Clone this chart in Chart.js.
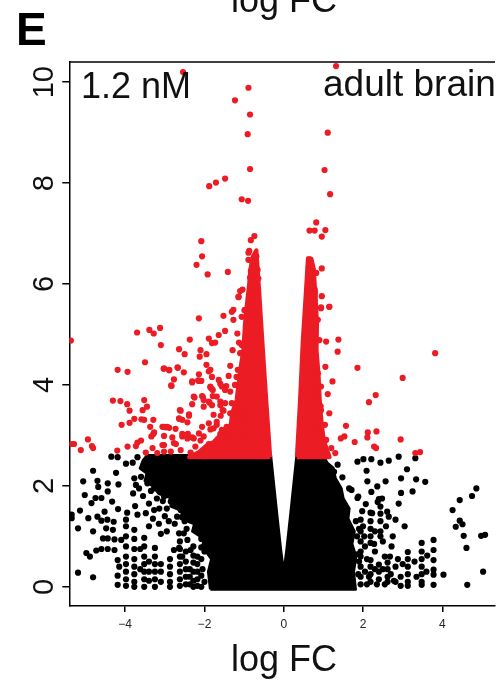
<!DOCTYPE html>
<html>
<head>
<meta charset="utf-8">
<script src="https://cdn.jsdelivr.net/npm/chart.js@4.4.1/dist/chart.umd.min.js"></script>
<style>
html, body { margin: 0; padding: 0; background: #fff; overflow: hidden; }
#wrap { position: relative; width: 499px; height: 682px; }
</style>
</head>
<body>
<div id="wrap"><canvas id="c" width="499" height="682"></canvas></div>
<script>
// --- data ------------------------------------------------------------
var xTicks = [-4, -2, 0, 2, 4];
var yTicks = [0, 2, 4, 6, 8, 10];
var yTickLabels = ["0", "2", "4", "6", "8", "10"];

// dense black mass (below the significance cut), with the white "V" notch
var blackCore = [
    [-1.85, -0.05], [-1.9, 0.3], [-1.82, 0.55], [-2.05, 0.8], [-2.0, 0.95], [-2.3, 1.1],
    [-2.25, 1.25], [-2.6, 1.35], [-2.55, 1.5], [-2.85, 1.6], [-2.8, 1.75], [-3.15, 1.85],
    [-3.3, 2.0], [-3.5, 2.1], [-3.45, 2.25], [-3.62, 2.35], [-3.55, 2.5], [-3.45, 2.6],
    [-0.33, 2.6], [-0.25, 2.0], [-0.17, 1.4], [-0.08, 0.75], [0, 0.26],
    [0.08, 0.75], [0.17, 1.4], [0.25, 2.0], [0.33, 2.6],
    [0.99, 2.6], [1.1, 2.45], [1.25, 2.35], [1.3, 2.15], [1.45, 1.95], [1.5, 1.75],
    [1.65, 1.55], [1.62, 1.35], [1.78, 1.1], [1.72, 0.85], [1.82, 0.6], [1.76, 0.3],
    [1.81, -0.05], [-1.85, -0.05]
];

// dense red wedges either side of the V
var redLeftCore = [
    [-0.34, 2.57], [-0.44, 3.70], [-0.54, 4.89], [-0.62, 5.88], [-0.69, 6.67], [-0.78, 6.55],
    [-0.84, 6.3], [-0.88, 5.95], [-0.92, 5.68], [-0.98, 5.2], [-1.02, 4.69], [-1.1, 4.3],
    [-1.19, 3.70], [-1.3, 3.45], [-1.34, 3.21], [-1.55, 3.05], [-1.77, 2.87], [-1.95, 2.8],
    [-2.14, 2.67], [-2.39, 2.57], [-0.34, 2.57]
];
var redRightCore = [
    [0.33, 2.57], [0.41, 3.70], [0.48, 4.89], [0.56, 5.88], [0.61, 6.51], [0.7, 6.5],
    [0.76, 6.3], [0.79, 5.9], [0.81, 5.68], [0.84, 5.2], [0.83, 4.69], [0.88, 4.2],
    [0.91, 3.70], [0.95, 3.3], [1.01, 2.91], [1.1, 2.7], [1.16, 2.57], [0.33, 2.57]
];

var blackPts = [
    // far left
    [-5.35, 1.43], [-5.35, 1.36], [-5.19, 1.16], [-5.19, 0.28], [-5.14, 1.51], [-5.06, 2.09],
    [-5.02, 1.82], [-4.98, 0.67], [-4.93, 1.36], [-4.89, 0.60], [-4.85, 1.66], [-4.81, 2.30],
    [-4.81, 1.10], [-4.81, 0.19], [-4.75, 1.76], [-4.73, 0.72], [-4.70, 2.10], [-4.70, 1.39],
    [-4.68, 1.98], [-4.60, 1.76], [-4.60, 1.31], [-4.60, 0.75], [-4.56, 0.96], [-4.52, 1.49],
    [-4.48, 1.16], [-4.45, 1.33], [-4.44, 2.05], [-4.44, 1.89], [-4.44, 0.96], [-4.44, 0.75],
    [-4.35, 2.58], [-4.33, 1.69], [-4.31, 1.13], [-4.29, 1.29], [-4.27, 0.94], [-4.27, 0.73],
    [-4.23, 2.26], [-4.19, 2.57], [-4.19, 0.53], [-4.19, 0.22], [-4.19, 0.04], [-4.18, 1.54],
    [-4.17, 2.03], [-4.15, 0.40], [-4.10, 0.93], [-3.98, 2.44], [-3.98, 1.33], [-3.95, 1.47],
    [-3.81, 2.46], [-3.77, 2.15], [-3.73, 2.02], [-3.69, 2.57], [-3.69, 1.43],
    // columns, left
    [-3.98, 1.2], [-3.98, 1.0], [-3.98, 0.8], [-3.98, 0.6], [-3.98, 0.45], [-3.98, 0.3], [-3.98, 0.15], [-3.98, 0.02],
    [-3.77, 1.13], [-3.77, 0.95], [-3.77, 0.75], [-3.77, 0.55], [-3.77, 0.4], [-3.77, 0.25], [-3.77, 0.1], [-3.77, 0.0],
    [-3.62, 0.75], [-3.62, 0.35],
    [-3.52, 0.97], [-3.52, 0.8], [-3.52, 0.6], [-3.52, 0.45], [-3.52, 0.3], [-3.52, 0.15], [-3.52, 0.0],
    [-3.4, 0.5], [-3.4, 0.3], [-3.4, 0.12],
    [-3.25, 0.77], [-3.25, 0.6], [-3.25, 0.45], [-3.25, 0.3], [-3.25, 0.15], [-3.25, 0.0],
    [-3.1, 0.45], [-3.1, 0.3], [-3.1, 0.1],
    [-2.87, 0.55], [-2.87, 0.4], [-2.87, 0.25], [-2.87, 0.1], [-2.87, 0.0],
    [-2.62, 0.9], [-2.62, 0.75], [-2.62, 0.6], [-2.62, 0.45], [-2.62, 0.3], [-2.62, 0.15], [-2.62, 0.02],
    [-2.47, 0.7], [-2.47, 0.5], [-2.47, 0.35], [-2.47, 0.2], [-2.47, 0.05],
    [-2.37, 0.35], [-2.37, 0.2], [-2.37, 0.05],
    [-2.28, 0.8], [-2.28, 0.62], [-2.28, 0.48], [-2.28, 0.3], [-2.28, 0.12], [-2.28, 0.0],
    [-2.18, 0.6], [-2.18, 0.45], [-2.18, 0.3], [-2.18, 0.15], [-2.18, 0.02],
    [-2.08, 0.95], [-2.08, 0.78], [-2.08, 0.55], [-2.08, 0.22], [-2.08, 0.0],
    [-2.0, 0.1], [-2.05, 0.35], [-2.0, 0.7], [-1.98, 0.85],
    // middle left
    [-3.60, 2.18], [-3.52, 2.38], [-3.48, 1.46], [-3.44, 2.05], [-3.35, 2.35], [-3.27, 2.28],
    [-3.27, 1.95], [-3.27, 1.52], [-3.19, 2.51], [-3.14, 1.55], [-3.06, 1.92], [-3.02, 2.44],
    [-3.02, 1.79], [-2.85, 2.32], [-2.85, 1.69], [-2.77, 2.18], [-2.77, 0.73], [-2.69, 1.92],
    [-2.69, 1.39], [-2.64, 1.06], [-2.64, 0.77], [-2.60, 2.08], [-2.60, 1.52], [-2.56, 0.60],
    [-2.52, 1.79], [-2.52, 1.06], [-2.43, 0.93], [-2.35, 1.66], [-2.35, 0.73],
    [-3.4, 1.2], [-3.3, 1.35], [-3.15, 1.25], [-3.0, 1.4], [-2.95, 1.1], [-2.9, 1.3], [-3.1, 1.05],
    [-2.75, 1.25], [-2.5, 1.3], [-2.45, 1.15], [-3.4, 1.65], [-3.55, 1.8], [-3.35, 1.9],
    [-3.2, 1.75], [-2.95, 1.55], [-3.05, 1.7], [-3.65, 1.95], [-3.8, 1.85], [-3.75, 1.6],
    // right of the core
    [1.27, 2.28], [1.36, 2.42], [1.48, 2.17], [1.65, 1.95], [1.71, 1.92], [1.86, 2.48],
    [1.86, 1.76], [1.88, 1.79], [2.01, 2.53], [2.07, 1.64], [2.09, 2.30], [2.11, 2.09],
    [2.21, 2.53], [2.21, 1.88], [2.23, 1.46], [2.36, 1.99], [2.37, 1.68], [2.40, 1.74],
    [2.44, 2.46], [2.48, 1.75], [2.57, 2.09], [2.61, 1.49], [2.65, 2.50], [2.65, 1.39],
    [2.72, 0.80], [2.82, 1.33], [2.90, 2.58], [2.90, 1.65], [2.96, 2.15], [2.96, 1.86],
    [3.11, 2.33], [3.25, 1.89], [3.32, 2.55], [3.34, 2.13], [3.57, 2.08],
    [1.82, 1.3], [1.85, 1.0], [1.9, 0.5], [2.0, 1.2], [2.05, 0.8], [2.05, 0.3], [2.1, 0.05],
    [1.98, 1.5], [2.3, 0.7], [2.3, 1.1], [2.55, 0.6], [2.55, 0.05], [2.7, 0.25], [2.95, 0.2], [2.95, 0.02],
    [1.88, 0.25], [1.88, 0.65], [1.9, 1.15], [2.03, 1.0], [2.1, 0.55], [2.15, 0.2], [2.28, 0.85],
    [2.3, 0.35], [2.35, 0.05], [2.5, 0.9], [2.5, 0.35], [2.58, 1.2], [2.68, 0.6], [2.75, 1.0],
    [2.78, 0.12], [2.88, 0.55], [3.0, 0.45], [3.05, 1.2], [3.3, 0.5], [3.35, 0.2], [3.6, 0.3], [3.62, 0.62],
    // columns, right
    [1.94, 1.33], [1.94, 1.1], [1.94, 0.9], [1.94, 0.7], [1.94, 0.6], [1.94, 0.4], [1.94, 0.2], [1.94, 0.05],
    [2.19, 1.47], [2.19, 1.3], [2.19, 1.15], [2.19, 1.0], [2.19, 0.87], [2.19, 0.53], [2.19, 0.4], [2.19, 0.25], [2.19, 0.1],
    [2.40, 0.44], [2.40, 0.3], [2.40, 0.15],
    [2.44, 1.59], [2.44, 1.45], [2.44, 1.3], [2.44, 1.1], [2.44, 1.0],
    [2.62, 0.48], [2.62, 0.35], [2.62, 0.2], [2.62, 0.1],
    [2.82, 0.40], [2.82, 0.10],
    [3.13, 0.69], [3.13, 0.55], [3.13, 0.4], [3.13, 0.25], [3.13, 0.1], [3.13, 0.02],
    [3.48, 0.87], [3.48, 0.7], [3.48, 0.55], [3.48, 0.4], [3.48, 0.25], [3.48, 0.1], [3.48, 0.04],
    [3.78, 0.93], [3.78, 0.73], [3.78, 0.53], [3.78, 0.34], [3.78, 0.24], [3.78, 0.04],
    [4.03, 0.24],
    // far right
    [4.26, 1.52], [4.34, 1.19], [4.44, 1.72], [4.44, 1.31], [4.51, 1.24], [4.54, 1.01],
    [4.61, 0.77], [4.63, 0.04], [4.75, 1.80], [4.86, 1.95], [4.98, 1.01], [5.03, 0.30], [5.08, 1.03]
];

var redPts = [
    // top, sparse
    [-2.54, 10.2], [-0.89, 9.89], [-1.23, 9.64], [-0.85, 9.36], [-0.91, 8.97], [-0.85, 8.28],
    [-1.48, 8.09], [-1.71, 8.01], [-1.88, 7.94], [-1.06, 7.68], [-0.90, 7.65], [1.32, 10.32],
    [1.11, 9.0], [1.03, 8.26], [1.17, 7.78], [0.82, 7.22], [0.65, 7.06], [0.78, 7.06],
    [1.05, 7.07], [0.96, 6.94],
    [-2.08, 6.85], [-2.06, 6.55], [-2.20, 6.38], [-1.92, 6.19], [-1.41, 6.24], [-0.74, 6.95],
    [-0.83, 6.87], [-0.89, 6.62], [-0.87, 6.66], [-0.69, 6.55], [-0.89, 6.48], [-0.79, 6.44],
    [-0.83, 6.26], [-0.66, 6.28], [-0.85, 6.13], [-0.64, 6.11], [-0.71, 6.16], [-1.04, 5.89],
    [-1.14, 5.74], [-0.72, 5.83], [-0.87, 5.74], [-0.77, 5.82],
    [-2.14, 5.32], [-1.52, 5.37], [-1.27, 5.49], [-0.98, 5.49], [-0.73, 5.50],
    [0.65, 6.49], [0.63, 6.34], [0.69, 6.23], [0.82, 6.22], [0.96, 6.31], [0.65, 6.09],
    [0.69, 5.95], [0.78, 5.85], [0.68, 5.74], [0.96, 5.76], [1.15, 5.55], [0.94, 5.52],
    // left spray
    [-5.37, 4.88], [-3.70, 5.04], [-3.39, 5.09], [-3.28, 5.02], [-3.12, 5.13], [-3.10, 4.79],
    [-2.37, 4.90], [-1.89, 4.92], [-1.81, 4.83], [-1.73, 4.84], [-1.64, 4.99], [-1.48, 5.07],
    [-2.64, 4.71], [-2.50, 4.61], [-2.10, 4.69], [-1.95, 4.61], [-2.12, 4.56], [-3.50, 4.45],
    [-4.19, 4.30], [-3.94, 4.26], [-3.03, 4.32], [-2.89, 4.29], [-2.67, 4.34], [-2.52, 4.25],
    [-2.77, 4.11], [-2.84, 3.99], [-2.14, 4.21], [-2.31, 4.05], [-2.14, 4.08], [-2.08, 4.08],
    [-1.95, 4.40], [-1.85, 4.30], [-1.60, 4.02], [-1.85, 3.95], [-1.79, 3.90], [-1.45, 3.98],
    [-4.31, 3.69], [-4.12, 3.68], [-3.95, 3.62], [-3.89, 3.49], [-3.52, 3.70], [-3.45, 3.57],
    [-3.56, 3.50], [-3.77, 3.33], [-3.59, 3.32], [-3.52, 3.31], [-3.89, 3.25], [-4.09, 3.21],
    [-3.29, 3.31], [-3.37, 3.17], [-3.06, 3.17], [-2.98, 3.16], [-3.29, 3.03], [-3.27, 3.06],
    [-2.73, 3.13], [-2.62, 3.50], [-2.39, 3.42], [-2.64, 3.34], [-2.56, 3.31],
    [-2.31, 3.62], [-2.25, 3.75], [-2.04, 3.76], [-2.02, 3.57], [-1.87, 3.65], [-1.79, 3.78],
    [-1.60, 3.60], [-1.54, 3.50], [-1.77, 3.41], [-1.59, 3.39],
    [-5.34, 2.83], [-5.29, 2.83], [-5.12, 2.71], [-4.94, 2.92], [-4.84, 2.79], [-4.81, 2.75],
    [-4.20, 2.70], [-3.94, 2.78], [-3.73, 2.79], [-3.69, 2.86], [-3.60, 2.90],
    [-3.48, 2.66], [-3.06, 2.81], [-3.02, 2.99], [-2.94, 3.17], [-2.77, 2.85], [-2.56, 2.98],
    [-2.42, 3.03], [-2.27, 2.94], [-2.23, 2.78], [-2.10, 2.90], [-2.02, 2.98], [-1.89, 2.83],
    [-1.85, 3.12], [-1.69, 3.21], [-1.60, 3.03], [-1.48, 3.11], [-1.44, 2.91], [-2.60, 2.71],
    [-3.02, 2.68], [-3.31, 2.75], [-3.34, 2.98], [-3.19, 2.65], [-2.85, 2.68], [-2.35, 2.66],
    // near the left wedge
    [-1.31, 5.45], [-1.14, 5.75], [-1.10, 5.86], [-0.85, 5.75], [-0.73, 5.81], [-0.89, 5.58],
    [-0.99, 5.48], [-0.71, 5.51], [-0.81, 5.35], [-0.64, 5.29], [-0.85, 5.22], [-1.06, 5.35],
    [-1.27, 5.29], [-1.17, 5.02], [-1.13, 4.84], [-1.06, 4.79], [-1.29, 4.69], [-1.10, 4.63],
    [-0.94, 4.69], [-0.96, 4.50], [-1.16, 4.30], [-1.35, 4.38],
    [-3.02, 4.33], [-2.89, 4.30], [-2.68, 4.35], [-2.83, 3.98], [-2.31, 4.07], [-2.16, 4.09],
    [-1.89, 4.27], [-1.81, 4.16], [-1.85, 3.97], [-1.81, 3.92], [-1.64, 4.10], [-1.56, 3.97],
    [-1.39, 4.18], [-1.19, 4.16], [-1.23, 4.00], [-1.48, 3.90], [-1.35, 3.87],
    [-2.27, 3.77], [-2.06, 3.78], [-2.02, 3.70], [-1.89, 3.67], [-1.81, 3.60], [-1.69, 3.77],
    [-1.60, 3.67], [-1.48, 3.64], [-1.52, 3.49], [-1.31, 3.64], [-1.35, 3.44], [-1.14, 3.54],
    [-1.06, 3.44], [-1.23, 3.37], [-2.60, 3.49], [-2.64, 3.33], [-2.39, 3.39], [-2.43, 3.26],
    [-3.02, 3.17], [-2.89, 3.15], [-2.81, 2.96], [-3.02, 2.81], [-2.72, 2.83], [-2.56, 3.03],
    [-2.43, 2.94], [-2.31, 2.96], [-2.14, 3.04], [-2.06, 3.17], [-1.89, 3.24], [-1.77, 3.14],
    [-1.69, 3.27], [-1.56, 3.11], [-1.44, 3.17], [-1.33, 3.04], [-1.14, 3.11], [-1.06, 2.98],
    [-0.97, 3.24], [-0.89, 3.37], [-0.94, 3.57],
    // right spray
    [0.94, 5.54], [1.15, 5.55], [1.38, 4.90], [1.36, 4.66], [3.82, 4.63], [1.05, 4.36],
    [1.86, 4.34], [1.23, 4.07], [1.11, 3.82], [0.93, 3.58], [1.15, 3.44], [1.04, 3.21],
    [3.0, 4.14], [2.32, 3.80], [2.15, 3.66], [1.57, 3.19], [1.44, 2.94], [1.53, 2.98],
    [1.79, 2.87], [2.12, 3.06], [2.11, 2.96], [2.34, 3.08], [2.28, 2.78], [2.33, 2.75],
    [2.95, 2.92], [3.32, 2.65], [3.44, 2.67],
    [0.86, 5.29], [0.90, 4.89], [1.07, 4.86], [0.86, 4.23], [0.94, 3.97], [0.82, 3.77],
    [0.94, 3.50], [0.84, 3.11], [1.07, 2.91], [0.86, 2.78], [0.94, 2.68],
    [1.2, 2.75], [1.3, 2.65], [1.1, 2.62]
];

// ----------------------------------------------------------------------
var X_MIN = -5.41, X_MAX = 5.33;
var Y_MIN = -0.38, Y_MAX = 10.4;
var RED = "#EC1C24";
var FONT = "'Liberation Sans', Arial, Helvetica, sans-serif";

function toXY(list) {
    return list.map(function (p) { return {x: p[0], y: p[1]}; });
}

var framePlugin = {
    id: "frame",
    afterDraw: function (chart) {
        var ctx = chart.ctx;
        var area = chart.chartArea;
        var yScale = chart.scales.y;
        ctx.save();

        // top edge of the box
        ctx.strokeStyle = "#000";
        ctx.lineWidth = 1.5;
        ctx.beginPath();
        ctx.moveTo(area.left, area.top);
        ctx.lineTo(area.right, area.top);
        ctx.stroke();

        // y tick labels, written along the axis (R style)
        ctx.fillStyle = "#111";
        ctx.font = "29px " + FONT;
        ctx.textAlign = "center";
        ctx.textBaseline = "alphabetic";
        yTicks.forEach(function (v, i) {
            var py = yScale.getPixelForValue(v);
            ctx.save();
            ctx.translate(53, py);
            ctx.rotate(-Math.PI / 2);
            ctx.fillText(yTickLabels[i], 0, 0);
            ctx.restore();
        });

        // panel letter and labels
        ctx.textAlign = "left";
        ctx.font = "bold 46px " + FONT;
        ctx.fillStyle = "#000";
        ctx.fillText("E", 16, 45);

        ctx.font = "36px " + FONT;
        ctx.fillStyle = "#111";
        ctx.fillText("1.2 nM", 81, 98);
        ctx.font = "37px " + FONT;
        ctx.fillText("adult brain", 323, 96);

        ctx.textAlign = "center";
        ctx.font = "36px " + FONT;
        ctx.fillText("log FC", 284, 12);
        ctx.fillText("log FC", 284, 671);
        ctx.restore();
    }
};

var chart = new Chart(document.getElementById("c"), {
    type: "scatter",
    data: {
        datasets: [
            {label: "red", data: toXY(redPts), backgroundColor: RED, borderWidth: 0, pointRadius: 3.1, order: 0},
            {label: "redL", type: "line", data: toXY(redLeftCore), borderColor: RED, backgroundColor: RED,
                fill: "shape", pointRadius: 0, borderWidth: 4, borderJoinStyle: "round", tension: 0, order: 1},
            {label: "redR", type: "line", data: toXY(redRightCore), borderColor: RED, backgroundColor: RED,
                fill: "shape", pointRadius: 0, borderWidth: 4, borderJoinStyle: "round", tension: 0, order: 1},
            {label: "black", data: toXY(blackPts), backgroundColor: "#000", borderWidth: 0, pointRadius: 3.1, order: 2},
            {label: "blackCore", type: "line", data: toXY(blackCore), borderColor: "#000", backgroundColor: "#000",
                fill: "shape", pointRadius: 0, borderWidth: 3, borderJoinStyle: "round", tension: 0, order: 3}
        ]
    },
    options: {
        responsive: false,
        animation: false,
        layout: {padding: {top: 62, left: 0, right: 0, bottom: 0}},
        plugins: {legend: {display: false}, tooltip: {enabled: false}},
        scales: {
            x: {
                type: "linear", min: X_MIN, max: X_MAX,
                afterFit: function (s) { s.height = 76; },
                afterBuildTicks: function (s) { s.ticks = xTicks.map(function (v) { return {value: v}; }); },
                grid: {drawOnChartArea: false, color: "#000", lineWidth: 1.5, tickLength: 6},
                border: {color: "#000", width: 1.5},
                ticks: {
                    font: {family: FONT, size: 12}, color: "#222", padding: 5, maxRotation: 0,
                    callback: function (v) { return String(v).replace("-", "\u2212"); }
                }
            },
            y: {
                type: "linear", min: Y_MIN, max: Y_MAX,
                afterFit: function (s) { s.width = 69.3; },
                afterBuildTicks: function (s) { s.ticks = yTicks.map(function (v) { return {value: v}; }); },
                grid: {drawOnChartArea: false, color: "#000", lineWidth: 1.5, tickLength: 7},
                border: {color: "#000", width: 1.5},
                ticks: {display: false}
            }
        }
    },
    plugins: [framePlugin]
});
</script>
</body>
</html>
